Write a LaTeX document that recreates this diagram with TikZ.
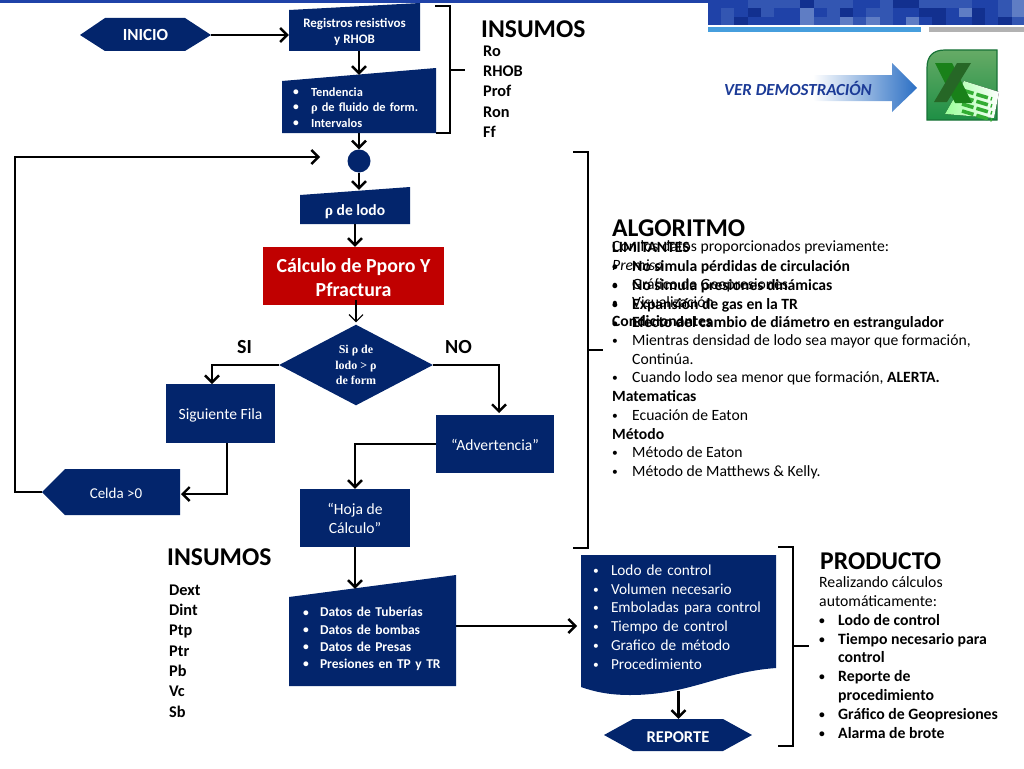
\documentclass[tikz,border=0pt]{standalone}
\usepackage{fontspec}
\setmainfont{Carlito}
\newfontfamily\rhofont{Liberation Serif}
\usetikzlibrary{arrows.meta,shapes.geometric}
\definecolor{navy}{HTML}{03256C}
\definecolor{redbox}{HTML}{C00000}
\definecolor{mosa}{HTML}{3356B2}
\definecolor{mosb}{HTML}{1F42A8}
\definecolor{mosc}{HTML}{5F7DC4}
\definecolor{mosd}{HTML}{12308F}
\definecolor{xlgreen}{HTML}{1E8F45}
\definecolor{arrowblue}{HTML}{2B6FC4}
\newcommand{\bul}[1][17pt]{\makebox[#1][l]{\raisebox{.9pt}{\fontsize{11.5}{12}\selectfont\textbullet}}}
\tikzset{
  line/.style={black,line width=2.4pt,>={Straight Barb[length=7pt,width=14pt]}},
  brk/.style={black,line width=1.4pt},
  tag/.style={inner sep=0pt,text=white,font=\fontsize{15.6}{19}\selectfont,align=center},
  box/.style={tag,fill=navy},
  list/.style={inner sep=0pt,anchor=north west,align=left},
  head/.style={inner sep=0pt,anchor=west,font=\fontsize{25.6}{28}\selectfont\bfseries}
}
\begin{document}
\begin{tikzpicture}[x=1pt,y=-1pt]
  \useasboundingbox (0,0) rectangle (1024,768);
  \fill[mosb] (0,0) rectangle (708,3);
  \foreach \row/\cells [count=\r from 0] in {0/{b,b,b,a,a,a,a,d,a,a,a,b,b,a,d,d,a,a,a,a,b,b,a,c},1/{b,a,b,d,a,b,b,c,b,a,d,b,a,a,b,b,d,d,b,c,d,b,a,c},2/{b,a,d,b,b,b,b,c,a,a,c,a,c,a,b,c,b,d,b,b,d,b,d,a}}
    \foreach \c [count=\i from 0] in \cells
      \fill[mos\c] ({708+13.2*\i},{8.4*\r}) rectangle ({708+13.2*(\i+1)+.3},{8.4*(\r+1)+.2});
  \fill[cyan!70!blue!75] (708,27) rectangle (921,32);
  \fill[black!30] (929,27) rectangle (1024,32);

  \shade[left color=white,right color=arrowblue] (813,75) -- (892,75) -- (892,63) -- (917,88) -- (892,112) -- (892,101) -- (813,101) -- cycle;
  \node[inner sep=0pt,anchor=west,text=mosb!90!black,font=\fontsize{16.9}{18}\selectfont\bfseries\itshape] (ver) at (724,88) {VER DEMOSTRACIÓN};

  \shade[draw=xlgreen!80!black,line width=1.2pt,top color=green!45!black!60,bottom color=xlgreen] (927,120) -- (927,68) .. controls (927,56) and (933,50) .. (945,50) -- (997,50) -- (997,120) -- cycle;
  \fill[left color=white!60!green,right color=white] (964,81) -- (999,92) -- (994,118) -- (945,114) -- cycle;
  \foreach \dy in {0,7,14,21} \draw[green!60!black!80,line width=3.6pt,dash pattern=on 12pt off 3pt] (962,{90+\dy}) -- (992,{99+\dy});
  \fill[green!45!black!90] (935,63) -- (952,63) -- (972,103) -- (955,103) -- cycle;
  \fill[green!30!black!85] (957,63) -- (971,63) -- (947,102) -- (934,102) -- cycle;

  \fill[navy] (80,35) -- (105,18) -- (185,18) -- (211,35) -- (185,51) -- (105,51) -- cycle;
  \node[tag,minimum width=131pt,minimum height=33pt,font=\fontsize{17}{18}\selectfont\bfseries] (ini) at (145.5,35) {INICIO};
  \fill[navy] (289,10) -- (420,3) -- (420,51) -- (289,51) -- cycle;
  \node[tag,minimum width=131pt,minimum height=41pt,font=\fontsize{13}{16}\selectfont\bfseries] (reg) at (354.5,30.5) {\rule{0pt}{12pt}Registros resistivos\\y RHOB};
  \fill[navy] (282,81) -- (436,68) -- (436,133) -- (282,133) -- cycle;
  \node[tag,align=left,text width=132pt,inner xsep=11pt,minimum height=51pt,font=\fontsize{12.4}{15.5}\selectfont\bfseries] (tend) at (359,107.5) {\bul[18pt]Tendencia\\\bul[18pt]{\rhofont ρ} de fluido de form.\\\bul[18pt]Intervalos};
  \node[circle,fill=navy,inner sep=0pt,minimum size=23pt] (dot) at (359,161) {};
  \fill[navy] (300,195) -- (410,187) -- (410,224) -- (300,224) -- cycle;
  \node[tag,minimum width=110pt,minimum height=29pt,font=\fontsize{15.5}{18}\selectfont\bfseries] (rho) at (355,209.5) {\rule{0pt}{15pt}{\rhofont ρ} de lodo};
  \node[tag,fill=redbox,minimum width=181pt,minimum height=58pt,font=\fontsize{19.9}{24}\selectfont\bfseries] (calc) at (353.5,276) {\rule{0pt}{17pt}Cálculo de Pporo Y\\Pfractura};
  \node[diamond,fill=navy,text=white,inner sep=0pt,minimum width=154pt,minimum height=78pt,align=center,font=\fontsize{12}{15.5}\selectfont\rhofont\bfseries] (dia) at (356,365) {Si ρ de\\lodo > ρ\\de form};
  \node[box,minimum width=109pt,minimum height=59pt] (sig) at (220.5,413.5) {\rule{0pt}{15pt}Siguiente Fila};
  \node[box,minimum width=118pt,minimum height=58pt] (adv) at (495,444) {\rule{0pt}{13.5pt}“Advertencia”};
  \node[box,minimum width=110pt,minimum height=58pt] (hoja) at (355,518) {\rule{0pt}{13pt}“Hoja de\\Cálculo”};
  \fill[navy] (42,492) -- (65,469) -- (180,469) -- (180,515) -- (65,515) -- cycle;
  \node[tag,minimum width=138pt,minimum height=46pt,font=\fontsize{15}{18}\selectfont] (cel) at (111,492) {\hspace*{10pt}\rule{0pt}{13pt}Celda >0};
  \fill[navy] (289,597) -- (456,575) -- (456,686) -- (289,686) -- cycle;
  \node[tag,align=left,text width=139pt,inner xsep=14pt,minimum height=98pt,font=\fontsize{13.5}{17.3}\selectfont\bfseries] (datos) at (372.5,637) {\rule{0pt}{14pt}\bul Datos de Tuberías\\\bul Datos de bombas\\\bul Datos de Presas\\\bul Presiones en TP y TR};
  \fill[navy] (581,555) -- (776,555) -- (776,668) .. controls (720,672) and (690,695) .. (630,695) .. controls (610,695) and (595,692) .. (581,687) -- cycle;
  \node[tag,align=left,text width=171pt,inner xsep=12pt,minimum height=124pt,font=\fontsize{15.3}{18.8}\selectfont] (doc) at (678.5,617) {\bul[18pt]Lodo de control\\\bul[18pt]Volumen necesario\\\bul[18pt]Emboladas para control\\\bul[18pt]Tiempo de control\\\bul[18pt]Grafico de método\\\bul[18pt]Procedimiento};
  \fill[navy] (604,735) -- (633,719) -- (723,719) -- (752,735) -- (723,751) -- (633,751) -- cycle;
  \node[tag,minimum width=148pt,minimum height=32pt,font=\fontsize{16.5}{18}\selectfont\bfseries] (rep) at (678,735) {\rule{0pt}{16pt}REPORTE};

  \coordinate (sigin) at (212,384); \coordinate (advin) at (499,413); \coordinate (sigout) at (227,443);
  \coordinate (celin) at (181,494); \coordinate (loopa) at (15,157); \coordinate (loopb) at (320,157);
  \coordinate (docin) at (577,626);
  \draw[line,->] (ini.east) -- (reg.west |- ini.east);
  \draw[line,->] (tend.north |- reg.south) -- ([yshift=7pt]tend.north);
  \draw[line,->] (tend.south) -- (dot.north);
  \draw[line,->] (dot.south) -- ([yshift=5pt]dot.south |- rho.north);
  \draw[line,->] (rho.south) -- (rho.south |- calc.north);
  \draw[line,line width=1.2pt,->,shorten >=2pt] ([yshift=5pt]dia.north |- calc.south) -- (dia.north);
  \draw[line,->] (dia.west) -| (sigin);
  \draw[line,->] (dia.east) -| (advin);
  \draw[line,->] (adv.west) -| (hoja.north);
  \draw[line,->] (sigout) |- (celin);
  \draw[line,->] (cel.west) -| (loopa) -- (loopb);
  \draw[line,->] (hoja.south) -- ([yshift=-1pt]hoja.south |- datos.north);
  \draw[line,->] (datos.east |- docin) -- (docin);
  \draw[line,->] ([yshift=-12pt]doc.south) -- (doc.south |- rep.north);

  \draw[brk] (435,6) -- (450,6) -- (450,133) -- (436,133); \draw[brk] (450,70) -- (465,70);
  \draw[brk] (573,152) -- (588,152) -- (588,548) -- (573,548); \draw[brk] (588,350) -- (603,350);
  \draw[brk] (778,547) -- (793,547) -- (793,746) -- (778,746); \draw[brk] (793,646) -- (809,646);

  \node[head] (insa) at (481,29) {INSUMOS};
  \node[list,font=\fontsize{16.3}{20.3}\selectfont\bfseries] (lista) at (483,45.5) {Ro\\RHOB\\Prof\\Ron\\Ff};
  \node[head] (alg) at (612,228) {ALGORITMO};
  \node[list,font=\fontsize{15.65}{18.75}\selectfont] (prem) at (612,240.5) {Con los datos proporcionados previamente:\\\textit{Premisa}\\\bul[20pt]Gráfico de Geopresiones\\\bul[20pt]Visualización\\\textbf{Condicionantes}\\\bul[20pt]Mientras densidad de lodo sea mayor que formación,\\\hspace*{20pt}Continúa.\\\bul[20pt]Cuando lodo sea menor que formación, \textbf{ALERTA.}\\\textbf{Matematicas}\\\bul[20pt]Ecuación de Eaton\\\textbf{Método}\\\bul[20pt]Método de Eaton\\\bul[20pt]Método de Matthews \& Kelly.};
  \node[list,font=\fontsize{15.65}{18.75}\selectfont\bfseries] (lim) at (612,242.5) {LIMITANTES\\\bul[20pt]No simula pérdidas de circulación\\\bul[20pt]No simula presiones dinámicas\\\bul[20pt]Expansión de gas en la TR\\\bul[20pt]Efecto del cambio de diámetro en estrangulador};
  \node[head] (insb) at (167,557) {INSUMOS};
  \node[list,font=\fontsize{16.3}{20.3}\selectfont\bfseries] (listb) at (169,584.5) {Dext\\Dint\\Ptp\\Ptr\\Pb\\Vc\\Sb};
  \node[head] (prod) at (820,561) {PRODUCTO};
  \node[list,font=\fontsize{15.75}{18.8}\selectfont] (real) at (819,576.5) {Realizando cálculos\\automáticamente:\\\textbf{\bul[19pt]Lodo de control}\\\textbf{\bul[19pt]Tiempo necesario para}\\\textbf{\hspace*{19pt}control}\\\textbf{\bul[19pt]Reporte de}\\\textbf{\hspace*{19pt}procedimiento}\\\textbf{\bul[19pt]Gráfico de Geopresiones}\\\textbf{\bul[19pt]Alarma de brote}};
  \node[inner sep=0pt,anchor=west,font=\fontsize{20}{22}\selectfont\bfseries] (si) at (237,347) {SI};
  \node[inner sep=0pt,anchor=west,font=\fontsize{20}{22}\selectfont\bfseries] (no) at (445,347) {NO};
\end{tikzpicture}
\end{document}
